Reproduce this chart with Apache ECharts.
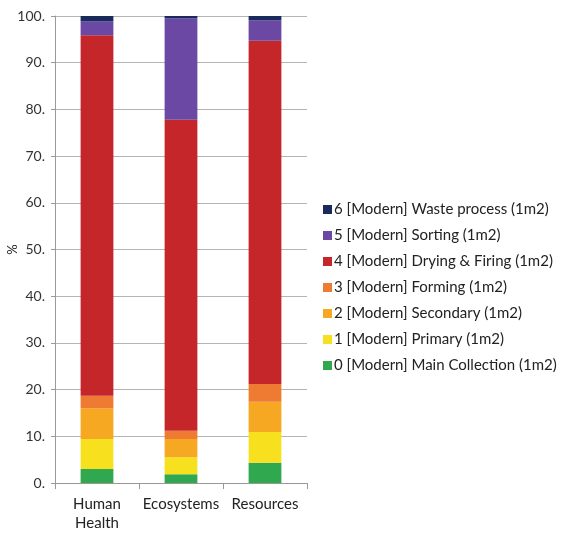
<!DOCTYPE html>
<html>
<head>
<meta charset="utf-8">
<script src="https://cdn.jsdelivr.net/npm/echarts@6/dist/echarts.min.js"></script>
<style>
  html, body { margin: 0; padding: 0; background: #fff; }
  #container { width: 563px; height: 533px; }
</style>
</head>
<body>
<div id="container"></div>
<script>
// categories and stacked shares (%)
var categories = ["Human\nHealth", "Ecosystems", "Resources"]
var stageNames = [
  "0 [Modern] Main Collection (1m2)",
  "1 [Modern] Primary (1m2)",
  "2 [Modern] Secondary (1m2)",
  "3 [Modern] Forming (1m2)",
  "4 [Modern] Drying & Firing (1m2)",
  "5 [Modern] Sorting (1m2)",
  "6 [Modern] Waste process (1m2)"
]
var mainCollection = [3.0, 1.85, 4.35]
var primary = [6.4, 3.65, 6.55]
var secondary = [6.6, 3.9, 6.5]
var forming = [2.7, 1.8, 3.8]
var dryingFiring = [77.2, 66.6, 73.5]
var sorting = [2.9, 21.7, 4.4]
var wasteProcess = [1.2, 0.5, 0.9]
var yTicks = [0, 10, 20, 30, 40, 50, 60, 70, 80, 90, 100]

var stageValues = [mainCollection, primary, secondary, forming, dryingFiring, sorting, wasteProcess]
var colors = ["#2fa84f", "#f7e11e", "#f7a823", "#ef7b32", "#c5262a", "#6a48a3", "#1b2a5c"]

var font = "Lato, 'Open Sans', sans-serif"

let chart = echarts.init(document.getElementById("container"))

let series = stageNames.map(function (name, i) {
  return {
    name: name,
    type: "bar",
    stack: "total",
    barWidth: "39%",
    itemStyle: { color: colors[i] },
    data: stageValues[i]
  }
})

chart.setOption({
  animation: false,
  grid: { left: 55, top: 16, width: 252, height: 468, containLabel: false },
  legend: {
    orient: "vertical",
    left: 318,
    top: 197,
    itemGap: 11,
    itemWidth: 9,
    itemHeight: 9,
    icon: "rect",
    data: stageNames.slice().reverse(),
    textStyle: { fontFamily: font, fontSize: 15, color: "#222", padding: [0, 0, 0, -3] }
  },
  xAxis: {
    type: "category",
    data: categories,
    axisLine: { lineStyle: { color: "#999" } },
    axisTick: { show: true, length: 6, lineStyle: { color: "#999" } },
    axisLabel: { interval: 0, fontFamily: font, fontSize: 15, color: "#222", margin: 12, lineHeight: 19 }
  },
  yAxis: {
    type: "value",
    min: 0,
    max: 100,
    interval: 10,
    name: "%",
    nameLocation: "middle",
    nameGap: 36,
    nameRotate: 90,
    nameMoveOverlap: false,
    nameTextStyle: { fontFamily: font, fontSize: 13, color: "#222" },
    axisLine: { show: true, lineStyle: { color: "#999" } },
    axisTick: { show: true, length: 4, lineStyle: { color: "#999" } },
    splitLine: { lineStyle: { color: "#b5b5b5" } },
    axisLabel: {
      fontFamily: font, fontSize: 14, color: "#333", margin: 10,
      formatter: function (v) { return yTicks.indexOf(v) >= 0 ? v + "." : "" }
    }
  },
  series: series
})
</script>
</body>
</html>
